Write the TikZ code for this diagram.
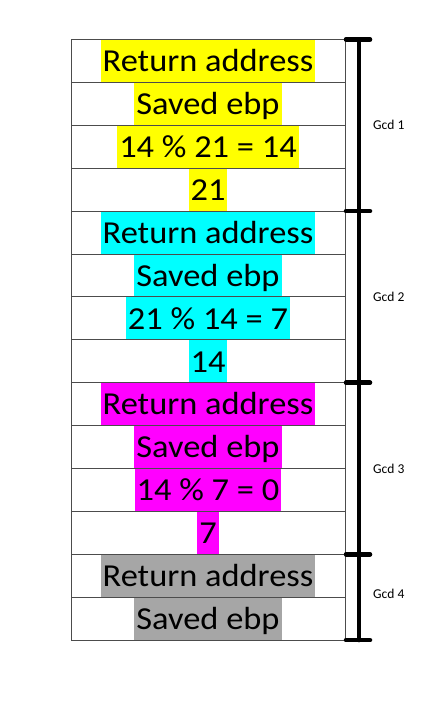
\documentclass[tikz,border=0pt]{standalone}
\usepackage{fontspec}
\usetikzlibrary{calc}
\setmainfont{Carlito}
\newfontfamily\cellfont[FakeStretch=1.075]{Carlito}
\definecolor{hlyellow}{RGB}{255,255,0}
\definecolor{hlcyan}{RGB}{0,255,255}
\definecolor{hlmagenta}{RGB}{255,0,255}
\definecolor{hlgray}{RGB}{166,166,166}
\def\rowh{42.9}

\tikzset{
	hl/.style={inner xsep=2pt, inner ysep=0pt, text height=32.2pt, text depth=10.7pt,
		font=\cellfont\fontsize{32}{38}\selectfont},
	cell/.style={draw=black!70, line width=1pt, minimum width=274pt, minimum height=\rowh pt, inner sep=0pt},
	brace/.style={line width=4.5pt, line cap=round},
	gcd/.style={anchor=west, inner sep=0pt, font=\fontsize{13.5}{15}\selectfont}
}

\begin{document}
\begin{tikzpicture}[x=1pt, y=-1pt]
	\useasboundingbox (0,0) rectangle (429,702);

	% stack cells
	\foreach \txt/\col [count=\i] in {
		Return address/hlyellow, Saved ebp/hlyellow, 14 \% 21 = 14/hlyellow, 21/hlyellow,
		Return address/hlcyan, Saved ebp/hlcyan, 21 \% 14 = 7/hlcyan, 14/hlcyan,
		Return address/hlmagenta, Saved ebp/hlmagenta, 14 \% 7 = 0/hlmagenta, 7/hlmagenta,
		Return address/hlgray, Saved ebp/hlgray}
	{
		\node[hl, fill=\col] (t\i) at (208, {39.5+\rowh*(\i-0.5)}) {\txt};
		\node[cell] (c\i) at (t\i) {};
	}

	% frames
	\foreach \j in {0,4,8,12,14}
		\coordinate (b\j) at (359, {39.5+\rowh*\j});
	\draw[brace] (b0) -- (b14);
	\foreach \j in {0,4,8,12,14}
		\draw[brace] ([xshift=-13pt]b\j) -- ([xshift=11pt]b\j);

	\node[gcd] (g1) at ([xshift=14pt]$(b0)!0.5!(b4)$) {Gcd 1};
	\node[gcd] (g2) at ([xshift=14pt]$(b4)!0.5!(b8)$) {Gcd 2};
	\node[gcd] (g3) at ([xshift=14pt]$(b8)!0.5!(b12)$) {Gcd 3};
	\node[gcd] (g4) at ([xshift=14pt,yshift=3pt]$(b12)!0.5!(b14)$) {Gcd 4};
\end{tikzpicture}
\end{document}
